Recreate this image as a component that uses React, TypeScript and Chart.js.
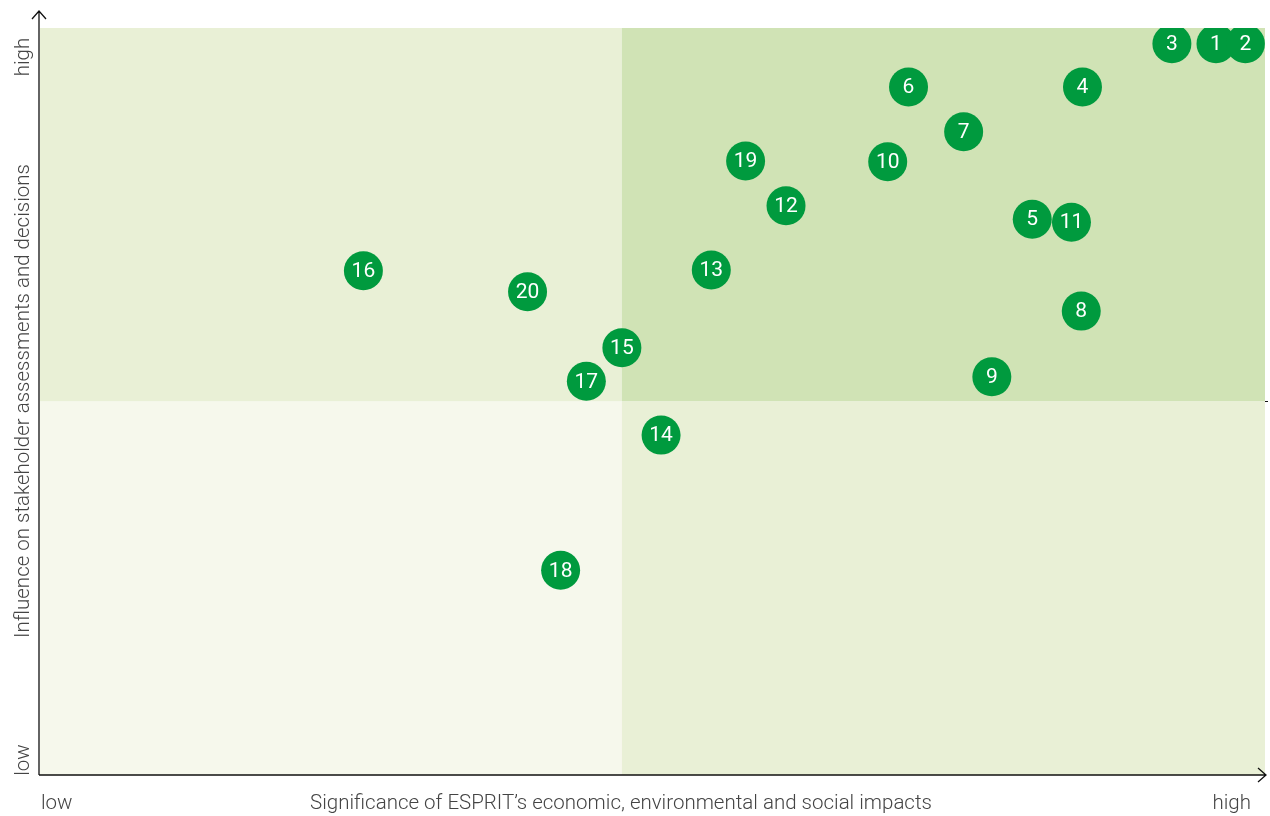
import React, { useEffect, useRef } from "react";
import { Chart, registerables } from "chart.js";

Chart.register(...registerables);

const topicIds: string[] = ["1","2","3","4","5","6","7","8","9","10","11","12","13","14","15","16","17","18","19","20"];
const significance: number[] = [96.0, 98.4, 92.4, 85.1, 81.0, 70.9, 75.4, 85.0, 77.7, 69.2, 84.2, 60.9, 54.8, 50.7, 47.5, 26.4, 44.6, 42.5, 57.6, 39.8];
const influence: number[] = [97.9, 97.9, 97.9, 92.1, 74.4, 92.1, 86.1, 62.1, 53.3, 82.1, 74.0, 76.2, 67.6, 45.5, 57.2, 67.5, 52.7, 27.4, 82.2, 64.7];
const xSplit = 47.5;
const ySplit = 50;
const xAxisTitle = "Significance of ESPRIT\u2019s economic, environmental and social impacts";
const yAxisTitle = "Influence on stakeholder assessments and decisions";
const lowLabel = "low";
const highLabel = "high";

const GREEN = "#009a3e";
const FONT = "Roboto, 'Liberation Sans', sans-serif";

const quadrantPlugin = {
  id: "quadrants",
  beforeDatasetsDraw(chart: any) {
    const { ctx, chartArea, scales } = chart;
    const xs = scales.x, ys = scales.y;
    const l = chartArea.left, r = chartArea.right, t = chartArea.top, b = chartArea.bottom;
    const mx = xs.getPixelForValue(xSplit);
    const my = ys.getPixelForValue(ySplit);
    ctx.save();
    ctx.fillStyle = "#e9f0d6"; ctx.fillRect(l, t, mx - l, my - t);
    ctx.fillStyle = "#d0e3b5"; ctx.fillRect(mx, t, r - mx, my - t);
    ctx.fillStyle = "#f6f8ec"; ctx.fillRect(l, my, mx - l, b - my);
    ctx.fillStyle = "#e9f0d6"; ctx.fillRect(mx, my, r - mx, b - my);

    // axes
    ctx.strokeStyle = "#111";
    ctx.lineWidth = 1.3;
    const ax = l - 1;
    ctx.beginPath();
    ctx.moveTo(ax, b);
    ctx.lineTo(ax, 11);
    ctx.moveTo(ax - 7, 19);
    ctx.lineTo(ax, 11);
    ctx.lineTo(ax + 7, 19);
    ctx.moveTo(ax, b);
    ctx.lineTo(r + 1, b);
    ctx.moveTo(r - 7, b - 7);
    ctx.lineTo(r + 1, b);
    ctx.lineTo(r - 7, b + 7);
    ctx.stroke();
    ctx.lineWidth = 1;
    ctx.beginPath();
    ctx.moveTo(r, my);
    ctx.lineTo(r + 3, my);
    ctx.stroke();

    // labels
    ctx.fillStyle = "#444";
    ctx.font = `300 20.5px ${FONT}`;
    ctx.textBaseline = "middle";
    ctx.textAlign = "left";
    ctx.fillText(lowLabel, 41, 804);
    ctx.textAlign = "right";
    ctx.fillText(highLabel, 1251, 804);
    ctx.textAlign = "center";
    ctx.fillText(xAxisTitle, 621, 804);

    ctx.save();
    ctx.translate(24, 0);
    ctx.rotate(-Math.PI / 2);
    ctx.textAlign = "center";
    ctx.fillText(highLabel, -57, 0);
    ctx.fillText(lowLabel, -760, 0);
    ctx.fillText(yAxisTitle, -401, 0);
    ctx.restore();
    ctx.restore();
  },
  afterDatasetsDraw(chart: any) {
    const { ctx } = chart;
    const meta = chart.getDatasetMeta(0);
    ctx.save();
    ctx.fillStyle = "#ffffff";
    ctx.font = `400 21px ${FONT}`;
    ctx.textAlign = "center";
    ctx.textBaseline = "middle";
    meta.data.forEach((pt: any, i: number) => {
      ctx.fillText(topicIds[i], pt.x, pt.y + 1);
    });
    ctx.restore();
  },
};

export default function App() {
  const ref = useRef<HTMLCanvasElement | null>(null);
  useEffect(() => {
    document.body.style.margin = "0";
    const canvas = ref.current;
    if (!canvas) return;
    const chart = new Chart(canvas, {
      type: "scatter",
      data: {
        datasets: [
          {
            data: significance.map((x, i) => ({ x, y: influence[i] })),
            backgroundColor: GREEN,
            borderWidth: 0,
            pointRadius: 19.5,
            pointHoverRadius: 19.5,
          },
        ],
      },
      options: {
        animation: false,
        responsive: false,
        maintainAspectRatio: false,
        devicePixelRatio: 1,
        events: [],
        layout: { autoPadding: false, padding: { left: 40, top: 28, right: 5, bottom: 41 } },
        plugins: { legend: { display: false }, tooltip: { enabled: false } },
        scales: {
          x: { type: "linear", min: 0, max: 100, display: false },
          y: { type: "linear", min: 0, max: 100, display: false },
        },
      },
      plugins: [quadrantPlugin],
    });
    return () => chart.destroy();
  }, []);
  return (
    <div style={{ position: "fixed", left: 0, top: 0, width: 1270, height: 816, background: "#fff" }}>
      <canvas ref={ref} width={1270} height={816} style={{ width: 1270, height: 816, display: "block" }} />
    </div>
  );
}
